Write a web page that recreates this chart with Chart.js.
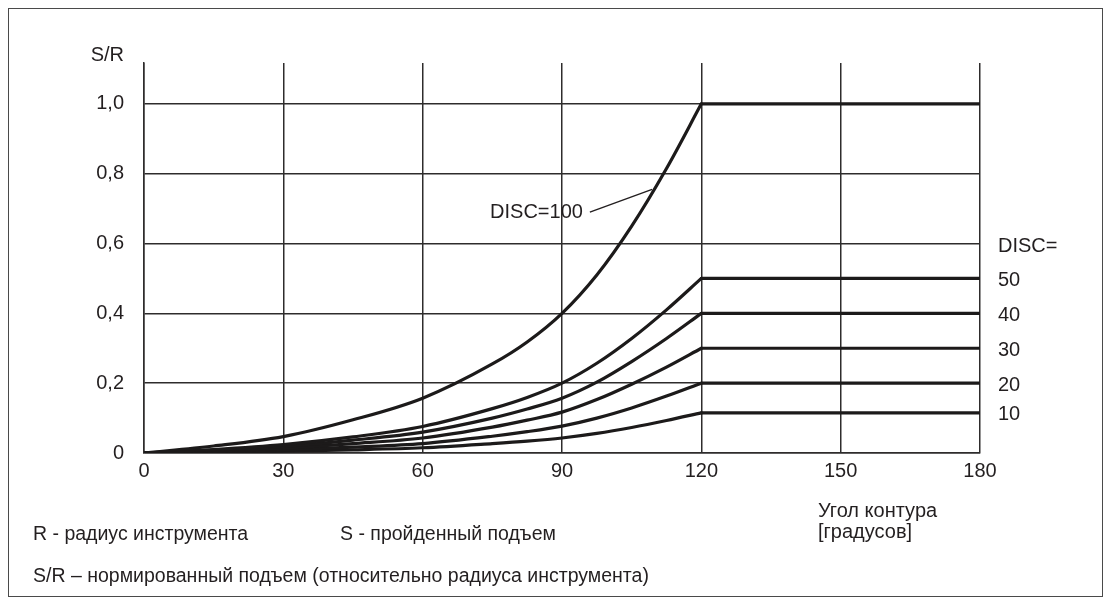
<!DOCTYPE html>
<html>
<head>
<meta charset="utf-8">
<title>DISC - нормированный подъем</title>
<script src="https://cdn.jsdelivr.net/npm/chart.js@4.4.1/dist/chart.umd.min.js"></script>
<style>
  html, body { margin: 0; padding: 0; background: #fff; }
  .wrap { position: relative; width: 1111px; height: 607px; }
  .frame { position: absolute; left: 8px; top: 8px; width: 1095px; height: 589px;
           border: 1px solid #4a4a4a; box-sizing: border-box; pointer-events: none; }
  canvas { position: absolute; left: 0; top: 0; }
</style>
</head>
<body>
<div class="wrap">
  <canvas id="disc-chart" width="1111" height="607"></canvas>
  <div class="frame"></div>
</div>

<script>
// Angle of the contour, degrees, and the normalized lift S/R for each DISC value
const angles = [0, 15, 30, 45, 60, 75, 82.5, 90, 97.5, 105, 112.5, 120];
const disc100 = [0, 0.02, 0.047, 0.095, 0.157, 0.255, 0.318, 0.4, 0.51, 0.65, 0.815, 1.0];
const disc50 = [0, 0.01, 0.024, 0.046, 0.076, 0.127, 0.159, 0.2, 0.257, 0.328, 0.41, 0.5];
const disc40 = [0, 0.008, 0.019, 0.037, 0.06, 0.1, 0.126, 0.157, 0.203, 0.262, 0.328, 0.4];
const disc30 = [0, 0.006, 0.014, 0.027, 0.043, 0.074, 0.094, 0.117, 0.153, 0.197, 0.246, 0.3];
const disc20 = [0, 0.004, 0.009, 0.017, 0.027, 0.048, 0.061, 0.077, 0.1, 0.129, 0.163, 0.2];
const disc10 = [0, 0.002, 0.005, 0.009, 0.015, 0.027, 0.034, 0.043, 0.056, 0.073, 0.093, 0.115];
const flatAngles = [120, 180];

const discNames = ['100', '50', '40', '30', '20', '10'];
const discSeries = [disc100, disc50, disc40, disc30, disc20, disc10];

const xTicks = [0, 30, 60, 90, 120, 150, 180];
const yTicks = [0, 0.2, 0.4, 0.6, 0.8, 1.0];

const INK = '#231f20';
const GRID = '#2e2c2c';
const FONT = '"Liberation Sans", Arial, sans-serif';

// each curve is drawn as the rising part plus the flat part after 120 degrees
const datasets = [];
discSeries.forEach((vals, i) => {
  datasets.push({
    label: 'DISC=' + discNames[i],
    data: angles.map((a, k) => ({ x: a, y: vals[k] })),
    cubicInterpolationMode: 'monotone'
  });
  const last = vals[vals.length - 1];
  datasets.push({
    label: 'DISC=' + discNames[i] + ' (120-180)',
    data: flatAngles.map(a => ({ x: a, y: last }))
  });
});
datasets.forEach(ds => {
  ds.borderColor = '#1c1a1a';
  ds.borderWidth = 3.2;
  ds.pointRadius = 0;
  ds.fill = false;
  ds.borderCapStyle = 'round';
  ds.borderJoinStyle = 'round';
});

const labelsPlugin = {
  id: 'labels',
  afterDraw(chart) {
    const ctx = chart.ctx;
    const xs = chart.scales.x, ys = chart.scales.y;
    const area = chart.chartArea;
    ctx.save();
    ctx.fillStyle = INK;
    ctx.font = '20px ' + FONT;
    ctx.textBaseline = 'middle';

    // axis name above the value labels
    ctx.textAlign = 'right';
    ctx.fillText('S/R', area.left - 20, area.top - 8);

    // DISC=100 callout with a leader to its curve
    ctx.textAlign = 'right';
    ctx.fillText('DISC=100', xs.getPixelForValue(94.5), ys.getPixelForValue(0.69));
    ctx.strokeStyle = INK;
    ctx.lineWidth = 1.4;
    ctx.beginPath();
    ctx.moveTo(xs.getPixelForValue(96), ys.getPixelForValue(0.69));
    ctx.lineTo(xs.getPixelForValue(109.4), ys.getPixelForValue(0.755));
    ctx.stroke();

    // values of DISC next to the flat ends
    ctx.textAlign = 'left';
    const rx = area.right + 18;
    ctx.fillText('DISC=', rx, ys.getPixelForValue(0.6) + 3);
    for (let i = 1; i < discSeries.length; i++) {
      const vals = discSeries[i];
      ctx.fillText(discNames[i], rx, ys.getPixelForValue(vals[vals.length - 1]) + 2);
    }

    // x axis name
    ctx.fillText('Угол контура', 818, 511);
    ctx.fillText('[градусов]', 818, 532);

    // notes under the chart
    ctx.font = '19.5px ' + FONT;
    ctx.fillText('R - радиус инструмента', 33, 535);
    ctx.fillText('S - пройденный подъем', 340, 535);
    ctx.fillText('S/R – нормированный подъем (относительно радиуса инструмента)', 33, 577);
    ctx.restore();
  }
};

new Chart(document.getElementById('disc-chart'), {
  type: 'line',
  data: { datasets: datasets },
  options: {
    responsive: false,
    animation: false,
    devicePixelRatio: 1,
    layout: { padding: { left: 0, top: 63, right: 131, bottom: 0 } },
    plugins: {
      legend: { display: false },
      tooltip: { enabled: false }
    },
    scales: {
      x: {
        type: 'linear',
        min: 0,
        max: 180,
        afterBuildTicks: s => { s.ticks = xTicks.map(v => ({ value: v })); },
        afterFit: s => { s.height = 154; },
        grid: { color: GRID, lineWidth: 1.5, drawTicks: false },
        border: { color: GRID, width: 1.5 },
        ticks: { color: INK, font: { family: FONT, size: 20 }, padding: 6, maxRotation: 0 }
      },
      y: {
        type: 'linear',
        min: 0,
        max: 1.117,
        afterBuildTicks: s => { s.ticks = yTicks.map(v => ({ value: v })); },
        afterFit: s => { s.width = 144; },
        grid: { color: GRID, lineWidth: 1.5, drawTicks: false },
        border: { color: GRID, width: 1.5 },
        ticks: {
          color: INK,
          font: { family: FONT, size: 20 },
          padding: 20,
          callback: v => v === 0 ? '0' : v.toFixed(1).replace('.', ',')
        }
      }
    }
  },
  plugins: [labelsPlugin]
});
</script>
</body>
</html>
